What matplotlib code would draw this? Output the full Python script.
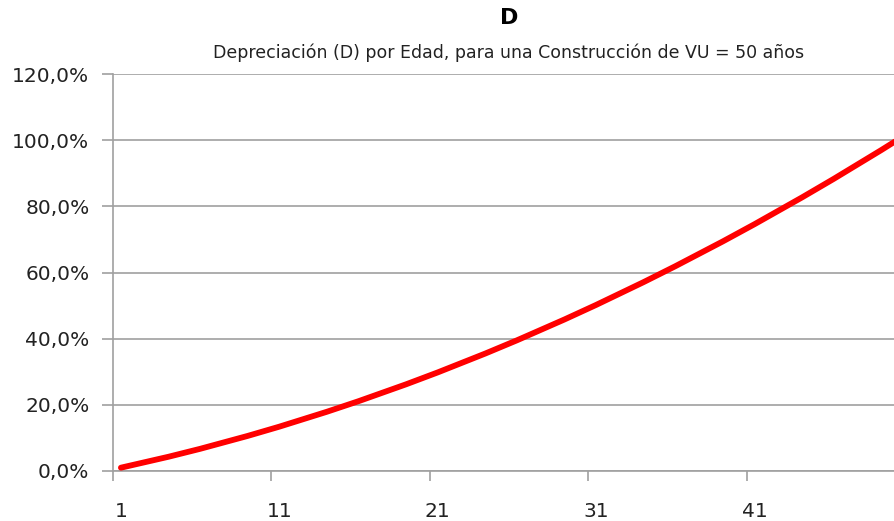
import matplotlib.pyplot as plt
from matplotlib.ticker import FuncFormatter, FixedLocator

# Edad de la construcción (años) y depreciación acumulada (%)
edad = list(range(1, 51))
depreciacion = [
    1.0, 2.1, 3.2, 4.3, 5.5, 6.7, 8.0, 9.3, 10.6, 12.0,
    13.4, 14.9, 16.4, 17.9, 19.5, 21.1, 22.8, 24.5, 26.2, 28.0,
    29.8, 31.7, 33.6, 35.5, 37.5, 39.5, 41.6, 43.7, 45.8, 48.0,
    50.2, 52.5, 54.8, 57.1, 59.5, 61.9, 64.4, 66.9, 69.4, 72.0,
    74.6, 77.3, 80.0, 82.7, 85.5, 88.3, 91.2, 94.1, 97.0, 100.0,
]
etiquetas_x = [1, 11, 21, 31, 41]
valores_y = [0, 20, 40, 60, 80, 100, 120]

titulo = "D"
subtitulo = "Depreciación (D) por Edad, para una Construcción de VU = 50 años"

gris = "#a0a0a0"
texto = "#222222"

fig = plt.figure(figsize=(8.94, 5.21), dpi=100)
# the plot area runs slightly past the right border of the image
ax = fig.add_axes([113 / 894, 50 / 521, 792 / 894, 397 / 521])

ax.plot(edad, depreciacion, color="#ff0000", lw=4.2, solid_capstyle="round",
        solid_joinstyle="round", zorder=3)

ax.set_xlim(0.5, 50.5)
ax.set_ylim(0, 120)

# y axis: percent labels with comma decimals
ax.yaxis.set_major_locator(FixedLocator(valores_y))
ax.yaxis.set_major_formatter(FuncFormatter(lambda v, p: f"{v:.1f}%".replace(".", ",")))
ax.grid(axis="y", color=gris, lw=1.2)
ax.set_axisbelow(True)

# x axis: tick marks between categories, labels centred on categories
ax.xaxis.set_major_locator(FixedLocator([0.5 + 10 * i for i in range(6)]))
ax.xaxis.set_minor_locator(FixedLocator(etiquetas_x))
ax.xaxis.set_major_formatter(FuncFormatter(lambda v, p: ""))
ax.xaxis.set_minor_formatter(FuncFormatter(lambda v, p: f"{int(v)}"))
ax.tick_params(axis="x", which="major", length=7, width=1.2, color=gris, direction="out")
ax.tick_params(axis="x", which="minor", length=0, pad=22, labelsize=14.5, labelcolor=texto)
ax.tick_params(axis="y", length=8, width=1.2, color=gris, direction="out",
               pad=9, labelsize=14.5, labelcolor=texto)

for lado in ("top", "right"):
    ax.spines[lado].set_visible(False)
for lado in ("left", "bottom"):
    ax.spines[lado].set_color(gris)
    ax.spines[lado].set_linewidth(1.2)

ax.text(0.5, 1.0 + 56 / 397, titulo, transform=ax.transAxes, ha="center",
        va="center", fontsize=16, fontweight="bold", color="black")
ax.text(0.5, 1.0 + 21 / 397, subtitulo, transform=ax.transAxes, ha="center",
        va="center", fontsize=12.5, color=texto)

fig.savefig("out.png", dpi=100)
